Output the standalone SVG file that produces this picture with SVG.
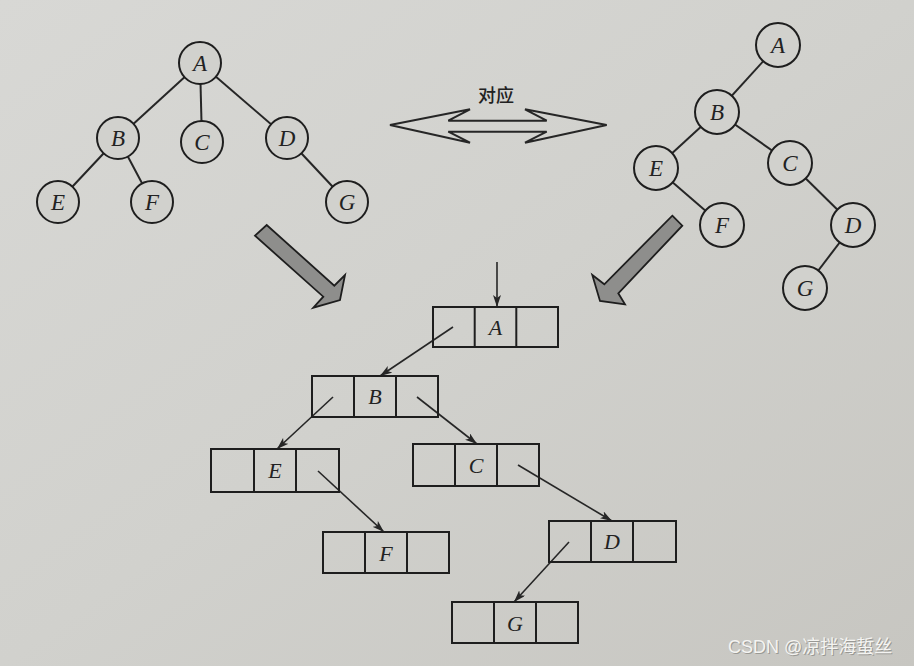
<svg xmlns="http://www.w3.org/2000/svg" width="914" height="666" viewBox="0 0 914 666">
  <style>
    .edge { stroke: #262626; stroke-width: 2; fill: none; }
    .node circle { fill: #d1d1cd; stroke: #1e1e1e; stroke-width: 2; }
    .lbl { font-family: "Liberation Serif", "DejaVu Serif", serif; font-style: italic; font-size: 23px; fill: #222; text-anchor: middle; }
    .cell { fill: none; stroke: #1e1e1e; stroke-width: 2; }
    .blbl { font-family: "Liberation Serif", "DejaVu Serif", serif; font-style: italic; font-size: 22px; fill: #222; text-anchor: middle; }
    .ptr { stroke: #262626; stroke-width: 1.6; fill: none; marker-end: url(#ah); }
    .big { fill: #8e8e8c; stroke: #1e1e1e; stroke-width: 1.8; stroke-linejoin: miter; }
  </style>
  <defs>
    <linearGradient id="bg" x1="0" y1="0" x2="1" y2="1">
      <stop offset="0" stop-color="#d8d8d5"/>
      <stop offset="0.5" stop-color="#d1d1cd"/>
      <stop offset="1" stop-color="#c7c6c1"/>
    </linearGradient>
    <marker id="ah" viewBox="0 0 12 8" refX="12" refY="4" markerWidth="12" markerHeight="8" markerUnits="userSpaceOnUse" orient="auto">
      <path d="M0,0 L12,4 L0,8 L3,4 z" fill="#262626"/>
    </marker>
  </defs>
  <rect width="914" height="666" fill="url(#bg)"/>

  <!-- connectors -->
  <g id="connectors">
    <!-- left tree -->
    <line class="edge" x1="200" y1="63" x2="118" y2="138"/>
    <line class="edge" x1="200" y1="63" x2="202" y2="142"/>
    <line class="edge" x1="200" y1="63" x2="287" y2="138"/>
    <line class="edge" x1="118" y1="138" x2="58" y2="202"/>
    <line class="edge" x1="118" y1="138" x2="152" y2="202"/>
    <line class="edge" x1="287" y1="138" x2="347" y2="202"/>
    <!-- right tree -->
    <line class="edge" x1="778" y1="45" x2="717" y2="112"/>
    <line class="edge" x1="717" y1="112" x2="656" y2="168"/>
    <line class="edge" x1="717" y1="112" x2="790" y2="163"/>
    <line class="edge" x1="656" y1="168" x2="722" y2="225"/>
    <line class="edge" x1="790" y1="163" x2="853" y2="225"/>
    <line class="edge" x1="853" y1="225" x2="805" y2="288"/>
    <!-- double arrow -->
    <polygon fill="none" stroke="#262626" stroke-width="2" stroke-linejoin="miter" points="390,125 470,109.3 448.3,120.7 546.7,120.7 525,109.3 606.7,125 525,142.7 546.7,131.7 448.3,131.7 470,142.7"/>
    <!-- big gray arrows -->
    <polygon class="big" points="255,235.7 266.7,225 334.3,285.7 345,275 340,300 313.3,307.7 323.3,296.7"/>
    <polygon class="big" points="672.3,215.7 682.3,225.7 618.3,293.3 625,304.3 600,301 592.3,275 604.3,284.3"/>
    <!-- pointers -->
    <line class="ptr" x1="497" y1="262" x2="497" y2="307"/>
    <line class="ptr" x1="453" y1="327" x2="380" y2="376"/>
    <line class="ptr" x1="333" y1="397" x2="277" y2="449"/>
    <line class="ptr" x1="417" y1="397" x2="477" y2="444"/>
    <line class="ptr" x1="318" y1="471" x2="384" y2="532"/>
    <line class="ptr" x1="518" y1="465" x2="612" y2="521"/>
    <line class="ptr" x1="569" y1="542" x2="514" y2="602"/>
  </g>

  <text x="496" y="102" font-family="'Noto Sans CJK SC', 'Noto Sans', sans-serif" font-size="18" font-weight="500" fill="#222" text-anchor="middle">对应</text>

  <!-- left tree nodes -->
  <g id="lA" class="node"><circle cx="200" cy="63" r="21"/><text class="lbl" x="200" y="71">A</text></g>
  <g id="lB" class="node"><circle cx="118" cy="138" r="21"/><text class="lbl" x="118" y="146">B</text></g>
  <g id="lC" class="node"><circle cx="202" cy="142" r="21"/><text class="lbl" x="202" y="150">C</text></g>
  <g id="lD" class="node"><circle cx="287" cy="138" r="21"/><text class="lbl" x="287" y="146">D</text></g>
  <g id="lE" class="node"><circle cx="58" cy="202" r="21"/><text class="lbl" x="58" y="210">E</text></g>
  <g id="lF" class="node"><circle cx="152" cy="202" r="21"/><text class="lbl" x="152" y="210">F</text></g>
  <g id="lG" class="node"><circle cx="347" cy="202" r="21"/><text class="lbl" x="347" y="210">G</text></g>

  <!-- right tree nodes -->
  <g id="rA" class="node"><circle cx="778" cy="45" r="22"/><text class="lbl" x="778" y="53">A</text></g>
  <g id="rB" class="node"><circle cx="717" cy="112" r="22"/><text class="lbl" x="717" y="120">B</text></g>
  <g id="rE" class="node"><circle cx="656" cy="168" r="22"/><text class="lbl" x="656" y="176">E</text></g>
  <g id="rC" class="node"><circle cx="790" cy="163" r="22"/><text class="lbl" x="790" y="171">C</text></g>
  <g id="rF" class="node"><circle cx="722" cy="225" r="22"/><text class="lbl" x="722" y="233">F</text></g>
  <g id="rD" class="node"><circle cx="853" cy="225" r="22"/><text class="lbl" x="853" y="233">D</text></g>
  <g id="rG" class="node"><circle cx="805" cy="288" r="22"/><text class="lbl" x="805" y="296">G</text></g>

  <!-- linked boxes -->
  <g id="bA"><rect class="cell" x="433" y="307" width="125" height="40"/><line class="cell" x1="474.7" y1="307" x2="474.7" y2="347"/><line class="cell" x1="516.3" y1="307" x2="516.3" y2="347"/><text class="blbl" x="495.5" y="335">A</text></g>
  <g id="bB"><rect class="cell" x="312" y="376" width="126" height="41"/><line class="cell" x1="354" y1="376" x2="354" y2="417"/><line class="cell" x1="396" y1="376" x2="396" y2="417"/><text class="blbl" x="375" y="404">B</text></g>
  <g id="bE"><rect class="cell" x="211" y="449" width="128" height="43"/><line class="cell" x1="254" y1="449" x2="254" y2="492"/><line class="cell" x1="296" y1="449" x2="296" y2="492"/><text class="blbl" x="275" y="478">E</text></g>
  <g id="bC"><rect class="cell" x="413" y="444" width="126" height="42"/><line class="cell" x1="455" y1="444" x2="455" y2="486"/><line class="cell" x1="497" y1="444" x2="497" y2="486"/><text class="blbl" x="476" y="473">C</text></g>
  <g id="bF"><rect class="cell" x="323" y="532" width="126" height="41"/><line class="cell" x1="365" y1="532" x2="365" y2="573"/><line class="cell" x1="407" y1="532" x2="407" y2="573"/><text class="blbl" x="386" y="561">F</text></g>
  <g id="bD"><rect class="cell" x="549" y="521" width="127" height="41"/><line class="cell" x1="591" y1="521" x2="591" y2="562"/><line class="cell" x1="633" y1="521" x2="633" y2="562"/><text class="blbl" x="612" y="549">D</text></g>
  <g id="bG"><rect class="cell" x="452" y="602" width="126" height="41"/><line class="cell" x1="494" y1="602" x2="494" y2="643"/><line class="cell" x1="536" y1="602" x2="536" y2="643"/><text class="blbl" x="515" y="631">G</text></g>

  <!-- watermark -->
  <text x="728" y="653" font-family="'Liberation Sans', 'Noto Sans CJK SC', sans-serif" font-size="18" fill="#7a7a76" opacity="0.6" transform="translate(1,1)">CSDN @凉拌海蜇丝</text>
  <text x="728" y="653" font-family="'Liberation Sans', 'Noto Sans CJK SC', sans-serif" font-size="18" fill="#f4f4f2">CSDN @凉拌海蜇丝</text>
</svg>
